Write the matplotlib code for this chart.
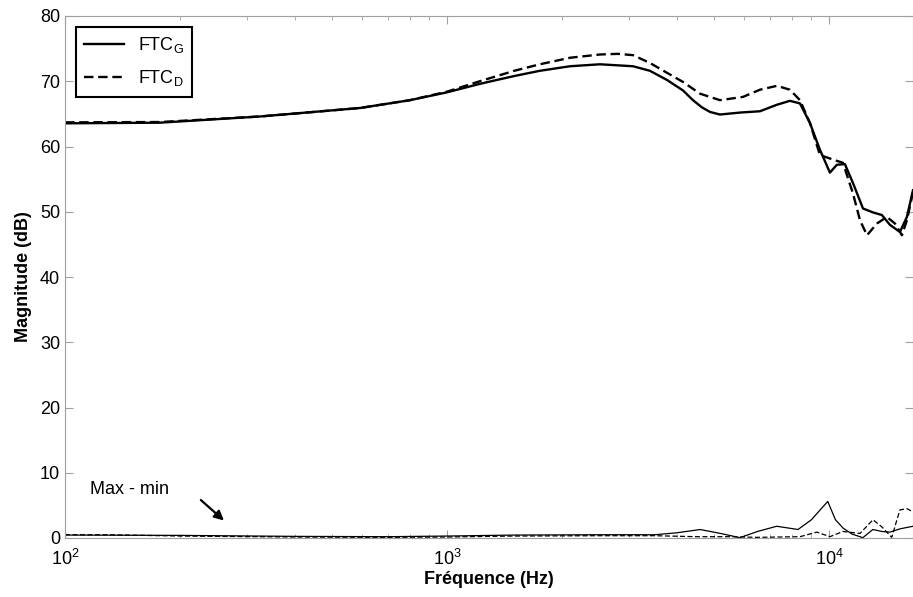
import numpy as np
import matplotlib
matplotlib.use("Agg")
import matplotlib.pyplot as plt

plt.rcParams['font.family'] = ['Liberation Sans', 'DejaVu Sans']

# FTC_G (solid), magnitude in dB
freq_g = [100, 177, 324, 592, 800, 1000, 1219, 1500, 1750, 2100, 2515, 3069,
          3400, 3766, 4147, 4406, 4650, 4881, 5185, 5848, 6597, 7310, 7905,
          8398, 8919, 9472, 10060, 10490, 11010, 11560, 12280, 13040, 13760,
          14440, 15340, 16000, 16600]
mag_g = [63.55, 63.65, 64.6, 65.9, 67.1, 68.3, 69.6, 70.8, 71.6, 72.3, 72.6,
         72.3, 71.6, 70.2, 68.6, 67.1, 66.0, 65.3, 64.9, 65.2, 65.4, 66.4,
         67.0, 66.6, 63.6, 59.5, 56.0, 57.2, 57.3, 54.4, 50.5, 49.9, 49.5,
         48.0, 46.9, 49.2, 53.3]

# FTC_D (dashed)
freq_d = [100, 177, 324, 592, 800, 1000, 1219, 1500, 1750, 2100, 2515, 2800,
          3069, 3400, 3766, 4147, 4596, 5185, 5955, 6597, 7310, 7905, 8398,
          8919, 9472, 10240, 10880, 11560, 12060, 12580, 13360, 14180, 14890,
          15530, 16000, 16600]
mag_d = [63.7, 63.75, 64.6, 65.9, 67.1, 68.4, 70.0, 71.6, 72.6, 73.6, 74.1,
         74.2, 74.0, 72.8, 71.3, 69.9, 68.1, 67.1, 67.6, 68.7, 69.3, 68.7,
         67.1, 63.6, 58.7, 58.0, 57.5, 52.8, 48.7, 46.4, 48.2, 49.2, 48.2,
         46.4, 48.7, 53.0]

# Max - min curves
freq_dg = [100, 200, 400, 700, 1000, 1500, 2500, 3500, 4000, 4600, 5200, 5850,
           6500, 7300, 8300, 9000, 9450, 9930, 10400, 10900, 11500, 12270,
           13030, 13760, 14450, 15340, 16600]
diff_g = [0.45, 0.4, 0.25, 0.2, 0.3, 0.45, 0.5, 0.5, 0.8, 1.3, 0.7, 0.05,
          1.0, 1.8, 1.3, 2.8, 4.2, 5.6, 2.8, 1.5, 0.6, 0.05, 1.3, 1.0, 0.9,
          1.4, 1.8]

freq_dd = [100, 130, 200, 400, 700, 1000, 1500, 2500, 3500, 4500, 5500, 6500,
           8400, 9300, 10060, 10880, 12060, 13040, 13760, 14600, 15340, 16000,
           16600]
diff_d = [0.5, 0.5, 0.3, 0.15, 0.1, 0.15, 0.3, 0.35, 0.35, 0.2, 0.2, 0.1,
          0.2, 0.9, 0.2, 1.0, 0.7, 2.8, 1.7, 0.1, 4.3, 4.5, 4.0]

fig = plt.figure(figsize=(9.13, 5.97), dpi=100)
ax = fig.add_axes([65 / 913, 1 - 538 / 597, 848 / 913, 522 / 597])

ax.plot(freq_g, mag_g, color='k', lw=1.7, label='FTC$_\\mathregular{G}$')
ax.plot(freq_d, mag_d, color='k', lw=1.7, ls=(0, (4, 2)),
        label='FTC$_\\mathregular{D}$')
ax.plot(freq_dg, diff_g, color='k', lw=0.9)
ax.plot(freq_dd, diff_d, color='k', lw=0.9, ls=(0, (4, 2)))

ax.set_xscale('log')
ax.set_xlim(100, 16600)
ax.set_ylim(0, 80)
ax.set_yticks(np.arange(0, 81, 10))

for s in ax.spines.values():
    s.set_color('#a0a0a0')
ax.tick_params(which='both', direction='in', top=True, right=True,
               color='#a0a0a0', labelsize=13, labelcolor='k')
ax.tick_params(which='major', length=6)
ax.tick_params(which='minor', length=3)
ax.tick_params(axis='x', pad=8)

ax.set_xlabel('Fréquence (Hz)', fontsize=13, fontweight='bold', labelpad=1)
ax.set_ylabel('Magnitude (dB)', fontsize=13, fontweight='bold', labelpad=6)

ax.text(116, 7.4, 'Max - min', fontsize=13, ha='left', va='center')
ax.annotate('', xy=(264, 2.4), xytext=(224, 6.1),
            arrowprops=dict(arrowstyle='-|>', color='k', lw=1.6,
                            mutation_scale=14))

leg = ax.legend(loc='upper left', fontsize=13, fancybox=False,
                edgecolor='k', framealpha=1, handlelength=2.2,
                borderaxespad=0.6, borderpad=0.45, labelspacing=0.75,
                handletextpad=0.8)
leg.get_frame().set_linewidth(1.5)

fig.savefig('out.png', dpi=100)
